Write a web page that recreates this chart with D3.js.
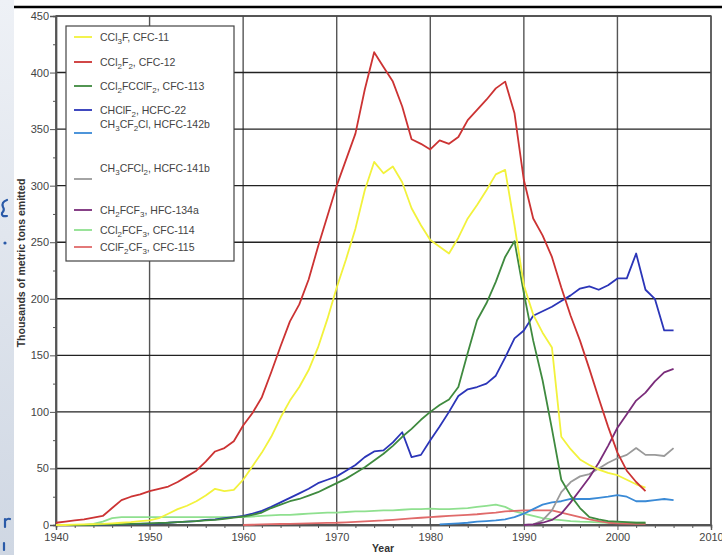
<!DOCTYPE html>
<html><head><meta charset="utf-8">
<script src="https://cdn.jsdelivr.net/npm/d3@7"></script>
<style>body{margin:0;background:#fff;}svg{display:block;}</style>
</head><body>
<svg id="c" width="722" height="555"></svg>
<script>
const startYear = 1940;
const cfc11 = [0,0,0.3,0.5,0.8,1,1.5,2,2.5,3.5,4,6,10,14,17,21,26,32,30,31,40,52,64,78,95,110,122,137,157,182,210,235,262,296,321,311,317,303,280,265,252,246,240,254,271,283,296,310,314,265,212,186,170,157,78,67,58,53,49,46,44,40,36,33];
const cfc12 = [2,3,4,5,6.5,8,15,22,25,27,30,32,34,38,43,48,56,65,68,74,88,99,113,135,158,180,195,217,246,273,300,323,346,385,418,405,392,370,341,337,332,340,337,343,358,367,376,386,392,364,305,271,256,237,210,185,163,138,112,87,64,48,38,30];
const cfc113 = [0,0,0,0,0,0.5,0.5,0.8,1,1.2,1.5,1.8,2,2.5,3,3.5,4,4.5,5.5,6.5,7.5,9,11,15,18,21,23,26,29,33,37,41,46,51,57,63,70,78,85,93,100,106,111,122,152,181,196,215,237,251,205,163,128,85,40,26,15,7,5,3.5,3,2.5,2,2];
const hcfc22 = [0,0,0,0,0,0.3,0.5,0.6,0.8,1,1.2,1.5,2,2.5,3,3.5,4.5,5,6,7,8,10,12.5,16,20,24,28,32,37,40,43,48,53,60,65,66,73,82,60,62,75,87,100,114,120,122,125,132,148,165,172,185,189,193,198,203,209,211,208,212,218,218,240,208,200,172,172];
const hcfc142bStart = 1981;
const hcfc142b = [0.5,1,1.5,2,3,3.5,4,5,7,10,14,18,20,21,23,23,23,24,25,26.5,25,21,21,22,23,22];
const hcfc141bStart = 1990;
const hcfc141b = [0,0.5,4,13,29,38,43,45,50,55,59,62,68,62,62,61,68];
const hfc134aStart = 1990;
const hfc134a = [0,0.5,2,4.5,10,20,31,42,55,70,86,98,110,117,127,135,138];
const cfc114 = [0,0,0,0,1,3,6,7,7,7,7,7,7,7,7,7,7,7,7,7,7,7.5,8,8.5,9,9,9.5,10,10.5,11,11,11.5,12,12,12.5,13,13,13.5,14,14,14.5,14,14,14.5,15,16,17,18,16,12,10,8,6,5,4.4,3.5,3,2.7,2.4,2,2,2,2,2];
const cfc115Start = 1960;
const cfc115 = [0,0.2,0.5,0.7,0.9,1,1.2,1.4,1.6,1.8,2,2.4,2.8,3.2,3.6,4,4.6,5.2,5.8,6.4,7,7.5,8,8.5,9,9.5,10.2,11,12,12.5,13,13,13,13,11,9,7,5,3.5,2,1.5,1.2,1,1];

const labels = [
  [["CCl"],["3","sub"],["F, CFC-11"]],
  [["CCl"],["2","sub"],["F"],["2","sub"],[", CFC-12"]],
  [["CCl"],["2","sub"],["FCClF"],["2","sub"],[", CFC-113"]],
  [["CHClF"],["2","sub"],[", HCFC-22"]],
  [["CH"],["3","sub"],["CF"],["2","sub"],["Cl, HCFC-142b"]],
  [["CH"],["3","sub"],["CFCl"],["2","sub"],[", HCFC-141b"]],
  [["CH"],["2","sub"],["FCF"],["3","sub"],[", HFC-134a"]],
  [["CCl"],["2","sub"],["FCF"],["3","sub"],[", CFC-114"]],
  [["CClF"],["2","sub"],["CF"],["3","sub"],[", CFC-115"]]
];
const colors = ["#f2f23c","#cc3333","#3f8a3f","#2b35b8","#3a8ad6","#9a9a9a","#7a2c7a","#8fe08f","#e06a6a"];
const seriesList = [
  {start:startYear, v:cfc11},
  {start:startYear, v:cfc12},
  {start:startYear, v:cfc113},
  {start:startYear, v:hcfc22},
  {start:hcfc142bStart, v:hcfc142b},
  {start:hcfc141bStart, v:hcfc141b},
  {start:hfc134aStart, v:hfc134a},
  {start:startYear, v:cfc114},
  {start:cfc115Start, v:cfc115}
];
const xTicks = [1940,1950,1960,1970,1980,1990,2000,2010];
const yTicks = [0,50,100,150,200,250,300,350,400,450];

const svg = d3.select("#c");
// left decorative strip
const defs = svg.append("defs");
const lg = defs.append("linearGradient").attr("id","strip").attr("x1",0).attr("y1",0).attr("x2",0).attr("y2",1);
lg.append("stop").attr("offset","0").attr("stop-color","#eef1f6");
lg.append("stop").attr("offset","1").attr("stop-color","#cfd7e3");
svg.append("rect").attr("x",0).attr("y",0).attr("width",14).attr("height",555).attr("fill","url(#strip)");
const deco = svg.append("g").attr("fill","none").attr("stroke","#2a5aa8").attr("stroke-width",2.2).attr("stroke-linecap","round");
deco.append("path").attr("d","M7,200 Q1,202 3,207 Q5,210 2,213 Q1,217 7,216");
deco.append("circle").attr("cx",5).attr("cy",243).attr("r",1.6).attr("fill","#2a5aa8").attr("stroke","none");
deco.append("path").attr("d","M5,519 L5,527 M5,521 Q7,518 10,519");
deco.append("path").attr("d","M4,543 L4,550");
svg.append("line").attr("x1",14).attr("x2",722).attr("y1",7).attr("y2",7).attr("stroke","#000").attr("stroke-width",2.5);

const m = {l:56, r:711, t:16, b:525};
const x = d3.scaleLinear().domain([1940,2010]).range([m.l,m.r]);
const y = d3.scaleLinear().domain([0,450]).range([m.b,m.t]);

const g = svg.append("g");
// grid
g.selectAll(".vg").data(xTicks).join("line")
  .attr("x1",d=>x(d)).attr("x2",d=>x(d)).attr("y1",m.t).attr("y2",m.b)
  .attr("stroke","#555").attr("stroke-width",1.4);
g.selectAll(".hg").data(yTicks).join("line")
  .attr("x1",m.l).attr("x2",m.r).attr("y1",d=>y(d)).attr("y2",d=>y(d))
  .attr("stroke","#222").attr("stroke-width",1.4);

// axes
const yAxis = d3.axisLeft(y).tickValues(yTicks).tickSize(6).tickPadding(1);
const yMinor = d3.axisLeft(y).tickValues(d3.range(25,450,50)).tickSize(3).tickFormat("");
const xAxis = d3.axisBottom(x).tickValues(xTicks).tickSize(5).tickPadding(3).tickFormat(d3.format("d"));
const xMinor = d3.axisBottom(x).tickValues(d3.range(1942,2010,2).filter(d=>d%10)).tickSize(3).tickFormat("");
function styleAxis(sel){
  sel.select(".domain").attr("stroke","#555").attr("stroke-width",1.4);
  sel.selectAll(".tick line").attr("stroke","#555");
  sel.selectAll("text").attr("fill","#444").style("font-family","Liberation Sans, Arial, sans-serif").style("font-size","11px");
}
g.append("g").attr("transform",`translate(${m.l},0)`).call(yMinor).call(styleAxis);
g.append("g").attr("transform",`translate(${m.l},0)`).call(yAxis).call(styleAxis);
g.append("g").attr("transform",`translate(0,${m.b})`).call(xMinor).call(styleAxis);
g.append("g").attr("transform",`translate(0,${m.b})`).call(xAxis).call(styleAxis);
// frame
g.append("rect").attr("x",m.l).attr("y",m.t).attr("width",m.r-m.l).attr("height",m.b-m.t)
  .attr("fill","none").attr("stroke","#555").attr("stroke-width",1.4);

// lines
const line = d3.line().x(d=>x(d[0])).y(d=>y(d[1]));
const drawOrder = [7,8,4,5,6,3,2,0,1];
drawOrder.forEach(i=>{
  const s = seriesList[i];
  const pts = s.v.map((v,k)=>[s.start+k, v]);
  g.append("path").datum(pts).attr("d",line).attr("fill","none")
    .attr("stroke",colors[i]).attr("stroke-width",1.8).attr("stroke-linejoin","round");
});

// legend
const lgG = svg.append("g");
lgG.append("rect").attr("x",66).attr("y",26).attr("width",168).attr("height",235)
  .attr("fill","#fff").attr("stroke","#444").attr("stroke-width",1.2);
const textY = [37,62,86,110,124,168,210,230,247];
const swY = [37,62,86,110,133,179,210,230,247];
labels.forEach((parts,i)=>{
  lgG.append("line").attr("x1",74).attr("x2",92).attr("y1",swY[i]).attr("y2",swY[i])
    .attr("stroke",colors[i]).attr("stroke-width",1.8);
  const t = lgG.append("text").attr("x",100).attr("y",textY[i]+4)
    .attr("fill","#444").style("font-family","Liberation Sans, Arial, sans-serif").style("font-size","10.5px");
  let prevSub = false;
  parts.forEach(p=>{
    const isSub = p[1]==="sub";
    const ts = t.append("tspan").text(p[0]).attr("dy", isSub ? 3 : (prevSub ? -3 : 0));
    if(isSub) ts.style("font-size","8px");
    prevSub = isSub;
  });
});

// axis titles
svg.append("text").attr("x",383).attr("y",552).attr("text-anchor","middle")
  .style("font-family","Liberation Sans, Arial, sans-serif").style("font-size","10.5px").style("font-weight","bold").attr("fill","#333").text("Year");
svg.append("text").attr("transform","translate(25,263) rotate(-90)").attr("text-anchor","middle")
  .style("font-family","Liberation Sans, Arial, sans-serif").style("font-size","10.5px").style("font-weight","bold").attr("fill","#333")
  .text("Thousands of metric tons emitted");
</script>
</body></html>
